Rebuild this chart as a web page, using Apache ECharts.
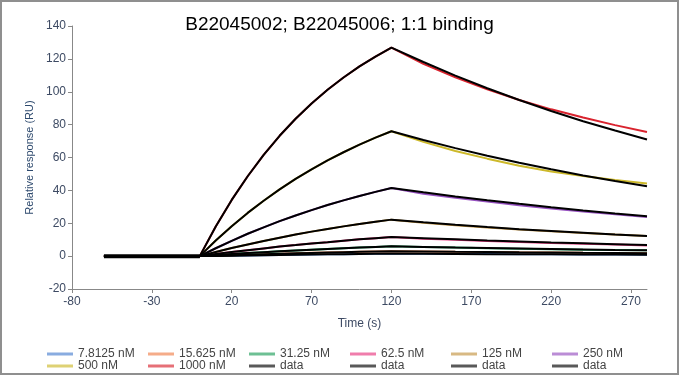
<!DOCTYPE html>
<html>
<head>
<meta charset="utf-8">
<script src="https://cdn.jsdelivr.net/npm/echarts@6/dist/echarts.min.js"></script>
<style>
  html, body { margin: 0; padding: 0; background: #fff; }
  #main { width: 679px; height: 375px; box-sizing: border-box; border: 2px solid #8f8f8f; }
</style>
</head>
<body>
<div id="main"></div>
<script>
// time points (s)
var times = [-60, 0, 10, 20, 30, 40, 50, 60, 70, 80, 90, 100, 110, 120, 140, 160, 180, 200, 220, 240, 260, 280];
var xTicks = [-80, -30, 20, 70, 120, 170, 220, 270];

// measured curves
var c7_8   = [0, 0, 0.15, 0.3, 0.45, 0.6, 0.75, 0.9, 1.0, 1.1, 1.2, 1.3, 1.4, 1.5, 1.4, 1.3, 1.25, 1.15, 1.1, 1.0, 0.95, 0.9];
var c15_6  = [0, 0, 0.3, 0.6, 0.9, 1.2, 1.5, 1.7, 2.0, 2.2, 2.4, 2.6, 2.8, 3.0, 2.8, 2.6, 2.5, 2.3, 2.2, 2.0, 1.9, 1.8];
var c31    = [0, 0, 0.65, 1.3, 1.9, 2.4, 2.9, 3.4, 3.9, 4.4, 4.8, 5.2, 5.6, 6.0, 5.5, 5.2, 4.8, 4.5, 4.2, 3.9, 3.7, 3.5];
var c62    = [0, 0, 1.3, 2.5, 3.6, 4.7, 5.8, 6.7, 7.7, 8.5, 9.4, 10.2, 10.9, 11.6, 10.6, 9.9, 9.2, 8.6, 8.0, 7.5, 7.0, 6.5];
var c125   = [0, 0, 2.5, 4.9, 7.1, 9.2, 11.2, 13.1, 14.9, 16.5, 18.1, 19.5, 20.9, 22.2, 20.3, 18.8, 17.4, 16.2, 15.1, 14.1, 13.1, 12.3];
var c250   = [0, 0, 4.8, 9.3, 13.6, 17.5, 21.3, 24.7, 28.0, 31.1, 33.9, 36.6, 39.1, 41.5, 38.0, 35.5, 33.2, 31.0, 29.0, 27.2, 25.4, 23.8];
var c500   = [0, 0, 9.5, 18.2, 26.3, 33.7, 40.6, 47.0, 52.8, 58.2, 63.2, 67.8, 72.1, 76.0, 69.5, 64.0, 59.3, 55.0, 51.5, 48.7, 46.3, 44.2];
var c1000  = [0, 0, 18.0, 34.2, 48.6, 61.6, 73.2, 83.6, 92.9, 101.2, 108.7, 115.4, 121.4, 126.8, 117.0, 108.8, 101.5, 95.0, 89.3, 84.3, 79.7, 75.5];

// 1:1 binding fits
var f7_8   = [0, 0, 0.15, 0.3, 0.45, 0.6, 0.74, 0.88, 1.0, 1.1, 1.2, 1.3, 1.4, 1.5, 1.4, 1.3, 1.2, 1.15, 1.1, 1.0, 0.95, 0.9];
var f15_6  = [0, 0, 0.3, 0.6, 0.9, 1.2, 1.45, 1.7, 1.95, 2.2, 2.4, 2.6, 2.8, 3.0, 2.8, 2.6, 2.5, 2.3, 2.2, 2.0, 1.9, 1.8];
var f31    = [0, 0, 0.65, 1.3, 1.9, 2.4, 2.9, 3.4, 3.9, 4.4, 4.8, 5.2, 5.6, 6.0, 5.6, 5.2, 4.9, 4.6, 4.3, 4.0, 3.7, 3.5];
var f62    = [0, 0, 1.3, 2.5, 3.6, 4.7, 5.8, 6.7, 7.7, 8.5, 9.4, 10.2, 10.9, 11.6, 10.9, 10.2, 9.5, 8.9, 8.3, 7.8, 7.3, 6.8];
var f125   = [0, 0, 2.5, 4.9, 7.1, 9.2, 11.2, 13.1, 14.9, 16.5, 18.1, 19.5, 20.9, 22.2, 20.6, 19.1, 17.7, 16.4, 15.3, 14.2, 13.1, 12.2];
var f250   = [0, 0, 4.8, 9.3, 13.6, 17.5, 21.3, 24.7, 28.0, 31.1, 33.9, 36.6, 39.1, 41.5, 38.8, 36.3, 34.0, 31.8, 29.7, 27.8, 26.0, 24.3];
var f500   = [0, 0, 9.5, 18.2, 26.3, 33.7, 40.6, 47.0, 52.8, 58.2, 63.2, 67.8, 72.1, 76.0, 70.7, 65.7, 61.1, 56.8, 52.8, 49.1, 45.7, 42.5];
var f1000  = [0, 0, 18.0, 34.2, 48.6, 61.6, 73.2, 83.6, 92.9, 101.2, 108.7, 115.4, 121.4, 126.8, 118.1, 109.8, 102.1, 95.0, 88.3, 82.1, 76.4, 71.0];

var concNames = ['7.8125 nM', '15.625 nM', '31.25 nM', '62.5 nM', '125 nM', '250 nM', '500 nM', '1000 nM'];
var concColors = ['#4a7fd0', '#f0804a', '#1f9e5a', '#e8387f', '#c39440', '#9650c0', '#cdb92a', '#d9232e'];
var measured = [c7_8, c15_6, c31, c62, c125, c250, c500, c1000];
var fits = [f7_8, f15_6, f31, f62, f125, f250, f500, f1000];
var fitNames = ['data1', 'data1', 'data2', 'data2', 'data3', 'data3', 'data4', 'data4'];
var legendOrder = concNames.concat(['data1', 'data2', 'data3', 'data4']);

function pairs(vals) {
    return times.map(function (t, i) { return [t, vals[i]]; });
}

var series = [];
measured.forEach(function (vals, i) {
    series.push({
        name: concNames[i],
        type: 'line',
        symbol: 'none',
        color: concColors[i],
        lineStyle: {width: 2, color: concColors[i]},
        data: pairs(vals),
        z: 2
    });
});
fits.forEach(function (vals, i) {
    series.push({
        name: fitNames[i],
        type: 'line',
        symbol: 'none',
        color: '#000',
        lineStyle: {width: 2, color: '#000'},
        data: pairs(vals),
        z: 3
    });
});
// thick baseline before injection, where all curves overlap
series.push({
    name: 'baseline',
    type: 'line',
    symbol: 'none',
    color: '#000',
    lineStyle: {width: 4, color: '#000'},
    data: pairs(f1000).slice(0, 2),
    z: 4
});

// one legend per entry so the columns sit on a fixed grid
var legends = legendOrder.map(function (name, i) {
    return {
        left: 45 + (i % 6) * 101,
        top: 346 + Math.floor(i / 6) * 12,
        padding: 0,
        itemWidth: 26,
        itemHeight: 8,
        icon: 'path://M0,0 L26,0 L26,3 L0,3 Z',
        itemStyle: {opacity: 0.65},
        textStyle: {fontSize: 12, color: '#444', fontFamily: 'Liberation Sans'},
        formatter: function (n) { return n.indexOf('data') === 0 ? 'data' : n; },
        data: [name]
    };
});

var myChart = echarts.init(document.getElementById('main'));
var option = {
    animation: false,
    textStyle: {fontFamily: 'Liberation Sans'},
    title: {
        text: 'B22045002; B22045006; 1:1 binding',
        left: 'center',
        top: 8,
        textStyle: {fontSize: 19, fontWeight: 'normal', color: '#000', fontFamily: 'Liberation Sans'}
    },
    legend: legends,
    grid: {left: 70, right: 30, top: 24, bottom: 84},
    xAxis: {
        type: 'value',
        min: -80,
        max: 280,
        interval: 50,
        name: 'Time (s)',
        nameLocation: 'middle',
        nameGap: 29,
        nameTextStyle: {color: '#3d4a63', fontSize: 12},
        axisLine: {onZero: false, lineStyle: {color: '#888'}},
        axisTick: {show: true, length: 4, customValues: xTicks, lineStyle: {color: '#888'}},
        axisLabel: {customValues: xTicks, color: '#3d4a63', fontSize: 12, margin: 7},
        splitLine: {show: false}
    },
    yAxis: {
        type: 'value',
        min: -20,
        max: 140,
        interval: 20,
        name: 'Relative response (RU)',
        nameLocation: 'middle',
        nameGap: 33,
        nameTextStyle: {color: '#2e4a6e', fontSize: 11},
        axisLine: {show: true, onZero: false, lineStyle: {color: '#888'}},
        axisTick: {show: true, length: 4, lineStyle: {color: '#888'}},
        axisLabel: {color: '#3d4a63', fontSize: 12, margin: 6},
        splitLine: {show: false}
    },
    series: series
};
myChart.setOption(option);
</script>
</body>
</html>
